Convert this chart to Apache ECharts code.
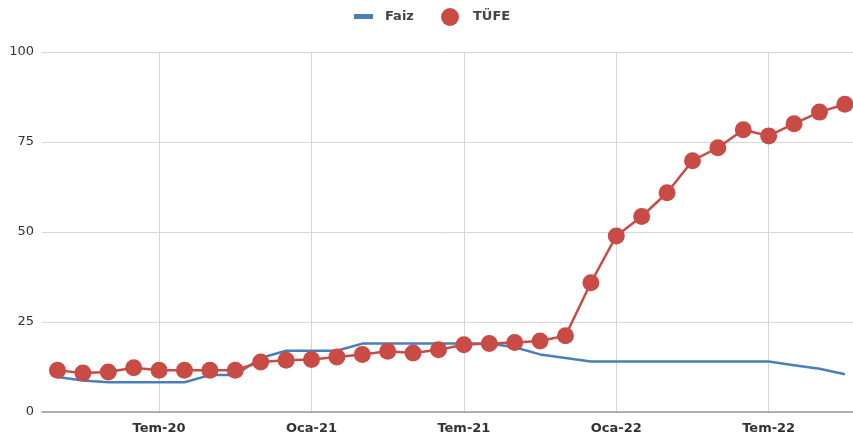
<!DOCTYPE html>
<html>
<head>
<meta charset="utf-8">
<script src="https://cdn.jsdelivr.net/npm/echarts@6/dist/echarts.min.js"></script>
<style>
  html, body { margin: 0; padding: 0; background: #fff; }
  #chart { width: 853px; height: 438px; }
</style>
</head>
<body>
<div id="chart"></div>
<script>
// aylar: Mar-20 .. Eki-22
var months = ['Mar-20','Nis-20','May-20','Haz-20','Tem-20','Ağu-20','Eyl-20','Eki-20','Kas-20','Ara-20',
              'Oca-21','Şub-21','Mar-21','Nis-21','May-21','Haz-21','Tem-21','Ağu-21','Eyl-21','Eki-21','Kas-21','Ara-21',
              'Oca-22','Şub-22','Mar-22','Nis-22','May-22','Haz-22','Tem-22','Ağu-22','Eyl-22','Eki-22'];
var faiz = [9.75, 8.75, 8.25, 8.25, 8.25, 8.25, 10.25, 10.25, 15, 17,
            17, 17, 19, 19, 19, 19, 19, 19, 18, 16, 15, 14,
            14, 14, 14, 14, 14, 14, 14, 13, 12, 10.5];
var tufe = [11.6, 10.8, 11.1, 12.3, 11.6, 11.6, 11.6, 11.6, 13.9, 14.4,
            14.6, 15.3, 16.0, 16.9, 16.4, 17.3, 18.7, 19.0, 19.3, 19.7, 21.2, 35.9,
            48.9, 54.3, 60.9, 69.8, 73.4, 78.4, 76.7, 80.1, 83.3, 85.5];
var tickLabels = ['Tem-20', 'Oca-21', 'Tem-21', 'Oca-22', 'Tem-22'];

var tickIdx = tickLabels.map(function (t) { return months.indexOf(t); });
function pairs(arr) {
  return arr.map(function (v, i) { return [i, v]; });
}

var chart = echarts.init(document.getElementById('chart'));
var font = 'DejaVu Sans';
var option = {
  backgroundColor: '#ffffff',
  animation: false,
  legend: [{
    data: ['Faiz'],
    left: 354, top: 10, padding: 0,
    icon: 'rect', itemWidth: 19, itemHeight: 5,
    textStyle: { fontFamily: font, fontSize: 13, fontWeight: 'bold', color: '#444', padding: [0, 0, 0, 7] }
  }, {
    data: ['TÜFE'],
    left: 441, top: 8, padding: 0,
    icon: 'circle', itemWidth: 18, itemHeight: 18,
    textStyle: { fontFamily: font, fontSize: 13, fontWeight: 'bold', color: '#444', padding: [0, 0, 0, 9] }
  }],
  grid: { left: 42, right: 0, top: 52, bottom: 26, containLabel: false },
  xAxis: {
    type: 'value',
    min: -0.61,
    max: 31.32,
    axisLine: { show: true, lineStyle: { color: '#9a9a9a', width: 1.5 } },
    axisTick: { show: false, customValues: tickIdx },
    splitLine: { show: true, lineStyle: { color: '#d6d6d6', width: 1 } },
    axisLabel: {
      customValues: tickIdx,
      formatter: function (v) { return months[Math.round(v)]; },
      fontFamily: font, fontSize: 13, fontWeight: 'bold', color: '#333', margin: 10
    }
  },
  yAxis: {
    type: 'value',
    min: 0, max: 100, interval: 25,
    axisLine: { show: false },
    axisTick: { show: false },
    splitLine: { lineStyle: { color: '#d6d6d6', width: 1 } },
    axisLabel: { fontFamily: font, fontSize: 13, color: '#333', margin: 8 }
  },
  series: [{
    name: 'Faiz',
    type: 'line',
    data: pairs(faiz),
    showSymbol: false,
    symbol: 'none',
    color: '#4a7ebb',
    lineStyle: { color: '#4a7ebb', width: 2.5 },
    z: 2
  }, {
    name: 'TÜFE',
    type: 'line',
    data: pairs(tufe),
    symbol: 'circle',
    symbolSize: 17,
    color: '#c84b45',
    itemStyle: { color: '#c84b45' },
    lineStyle: { color: '#c84b45', width: 2.5 },
    clip: false,
    z: 3
  }]
};
chart.setOption(option);
</script>
</body>
</html>
